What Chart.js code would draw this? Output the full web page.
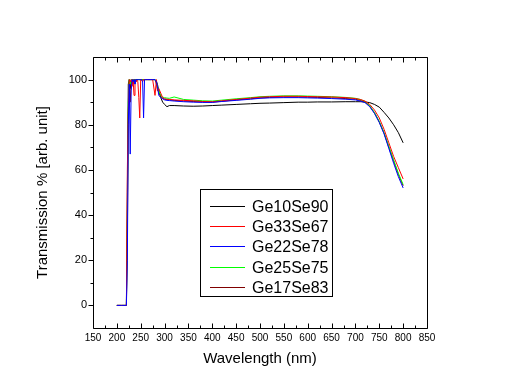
<!DOCTYPE html>
<html>
<head>
<meta charset="utf-8">
<script src="https://cdn.jsdelivr.net/npm/chart.js@4/dist/chart.umd.min.js"></script>
<style>
html,body{margin:0;padding:0;background:#fff;}
#c{display:block;}
</style>
</head>
<body>
<canvas id="c" width="514" height="383"></canvas>
<script>
// ---- data ----
const wavelength = [200,210,220,
  222,224,226,228,230,232,234,236,238,240,242,244,246,248,250,252,254,256,258,260,
  265,270,275,280,
  283,285,288,292,296,300,
  305,310,320,
  340,360,380,400,420,
  450,480,500,520,550,580,600,620,650,680,700,
  710,720,730,740,750,760,770,780,790,800];

const ge10se90 = [0,0,0,
  50,98,100,96,99,100,99,100,100,99,100,100,100,100,100,100,100,100,100,100,
  100,100,100,100,
  99,98,95,92,90,89,
  88,88.5,88.5,
  88.3,88.2,88.3,88.5,88.7,
  89,89.3,89.5,89.6,89.8,90,90,90.1,90.1,90.2,90.2,
  90.2,90.1,89.8,89.0,87.8,85.5,83,80,76.5,72];

const ge33se67 = [0,0,0,
  60,86,100,99,100,97,100,93,100,99,100,99,92,83,100,100,99,100,100,100,
  100,100,100,93,
  100,95,96,94,92,91.5,
  91.3,91.2,91,
  90.8,90.6,90.3,90.2,90.6,
  91.2,91.8,92.2,92.4,92.6,92.6,92.5,92.4,92.3,92,91.6,
  91.2,90.5,89,86.5,83,78,72,66,61,56];

const ge22se78 = [0,0,0,
  20,80,98,67,95,100,99,100,98,100,100,100,100,100,100,100,99,83,100,100,
  100,100,100,100,
  99,97,93,92,91.5,91,
  90.8,90.7,90.5,
  90.2,90,89.9,89.9,90.3,
  90.8,91.3,91.7,91.9,92,92,91.9,91.8,91.6,91.3,91,
  90.5,89.8,88,85,81,76,69.5,63,57,52];

const ge25se75 = [0,0,0,
  40,90,100,98,100,99,100,100,100,100,100,100,100,100,100,100,100,100,100,100,
  100,100,100,100,
  99,97,95,93,92.2,92,
  91.8,91.7,92.3,
  91.2,90.9,90.6,90.5,90.9,
  91.5,92,92.4,92.6,92.8,92.8,92.7,92.6,92.4,92.1,91.7,
  91.2,90.3,88.4,85.4,81.5,76.5,70.5,64.5,58.5,53.5];

const ge17se83 = [0,0,0,
  30,85,99,90,99,100,98,100,100,100,100,100,100,100,100,100,100,100,100,100,
  100,100,100,100,
  98,96,94,92.5,91.7,91.3,
  91.1,91,90.8,
  90.5,90.3,90.1,90,90.4,
  91,91.5,91.9,92.1,92.3,92.3,92.2,92.1,91.9,91.6,91.3,
  90.8,90,88.2,85.2,81.2,76.2,70,64,58,53];

const seriesNames = ['Ge10Se90','Ge33Se67','Ge22Se78','Ge25Se75','Ge17Se83'];
const seriesColors = ['#000000','#ff0000','#0000ff','#00ff00','#800000'];
const seriesValues = [ge10se90, ge33se67, ge22se78, ge25se75, ge17se83];
const drawOrder = [5, 2, 0, 3, 4];

const xTicks = [150,200,250,300,350,400,450,500,550,600,650,700,750,800,850];
const xMinorTicks = [175,225,275,325,375,425,475,525,575,625,675,725,775,825];
const yTicks = [0,20,40,60,80,100];
const yMinorTicks = [-10,10,30,50,70,90];

const FONT = '"Liberation Sans", Arial, sans-serif';

function toPoints(vals){ return wavelength.map((w,i)=>({x:w,y:vals[i]})); }

const framePlugin = {
  id:'frame',
  afterDatasetsDraw(chart){
    const {ctx, chartArea:a, scales:{x,y}} = chart;
    ctx.save();
    ctx.strokeStyle = '#000';
    ctx.lineWidth = 1;
    const L = Math.round(a.left)+0.5, R = Math.round(a.right)+0.5;
    const T = Math.round(a.top)+0.5, B = Math.round(a.bottom)+0.5;
    ctx.beginPath();
    ctx.rect(L, T, R-L, B-T);
    ctx.stroke();
    ctx.beginPath();
    const tick = (v, len) => {
      const px = Math.round(x.getPixelForValue(v))+0.5;
      ctx.moveTo(px, B); ctx.lineTo(px, B-len);
      ctx.moveTo(px, T); ctx.lineTo(px, T+len);
    };
    xTicks.forEach(v=>tick(v,5));
    xMinorTicks.forEach(v=>tick(v,3));
    const ytick = (v,len) => {
      const py = Math.round(y.getPixelForValue(v))+0.5;
      ctx.moveTo(L, py); ctx.lineTo(L-len, py);
    };
    yTicks.forEach(v=>ytick(v,5));
    yMinorTicks.forEach(v=>{ if (v> y.min && v < y.max) ytick(v,3); });
    ctx.stroke();

    // legend box
    const bx = 200.5, by = 189.5, bw = 132, bh = 107;
    ctx.fillStyle = '#fff';
    ctx.fillRect(bx, by, bw, bh);
    ctx.strokeStyle = '#000';
    ctx.strokeRect(bx, by, bw, bh);
    ctx.font = '16px ' + FONT;
    ctx.textBaseline = 'middle';
    ctx.textAlign = 'left';
    chart.data.datasets.forEach((ds, i) => {
      const cy = Math.round(206 + i*20.2) + 0.5;
      ctx.strokeStyle = ds.borderColor;
      ctx.beginPath();
      ctx.moveTo(210, cy); ctx.lineTo(245, cy);
      ctx.stroke();
      ctx.fillStyle = '#000';
      ctx.fillText(ds.label, 252, cy + 1);
    });
    ctx.restore();
  }
};

new Chart(document.getElementById('c'), {
  type:'line',
  data:{
    datasets: seriesNames.map((n,i)=>({
      label:n,
      data:toPoints(seriesValues[i]),
      borderColor:seriesColors[i],
      backgroundColor:seriesColors[i],
      borderWidth:1,
      pointRadius:0,
      tension:0,
      fill:false,
      order:drawOrder[i]
    }))
  },
  options:{
    responsive:false,
    animation:false,
    devicePixelRatio:1,
    layout:{padding:{left:0, top:57, right:87, bottom:0}},
    plugins:{legend:{display:false}, tooltip:{enabled:false}},
    scales:{
      x:{
        type:'linear', min:150, max:850,
        grid:{display:false, drawTicks:false},
        border:{display:false},
        afterBuildTicks(s){ s.ticks = xTicks.map(v=>({value:v})); },
        afterFit(s){ s.height = 55; },
        ticks:{padding:4, maxRotation:0, autoSkip:false, color:'#000',
          font:{family:FONT, size:10}},
        title:{display:true, text:'Wavelength (nm)', color:'#000',
          font:{family:FONT, size:15}, padding:{top:0, bottom:15}}
      },
      y:{
        type:'linear', min:-10, max:110,
        grid:{display:false, drawTicks:false},
        border:{display:false},
        afterBuildTicks(s){ s.ticks = yTicks.map(v=>({value:v})); },
        afterFit(s){ s.width = 93; },
        ticks:{padding:6, color:'#000', font:{family:FONT, size:11}},
        title:{display:true, text:'Transmission % [arb. unit]', color:'#000',
          font:{family:FONT, size:15}, padding:{top:34, bottom:0}}
      }
    }
  },
  plugins:[framePlugin]
});
</script>
</body>
</html>
